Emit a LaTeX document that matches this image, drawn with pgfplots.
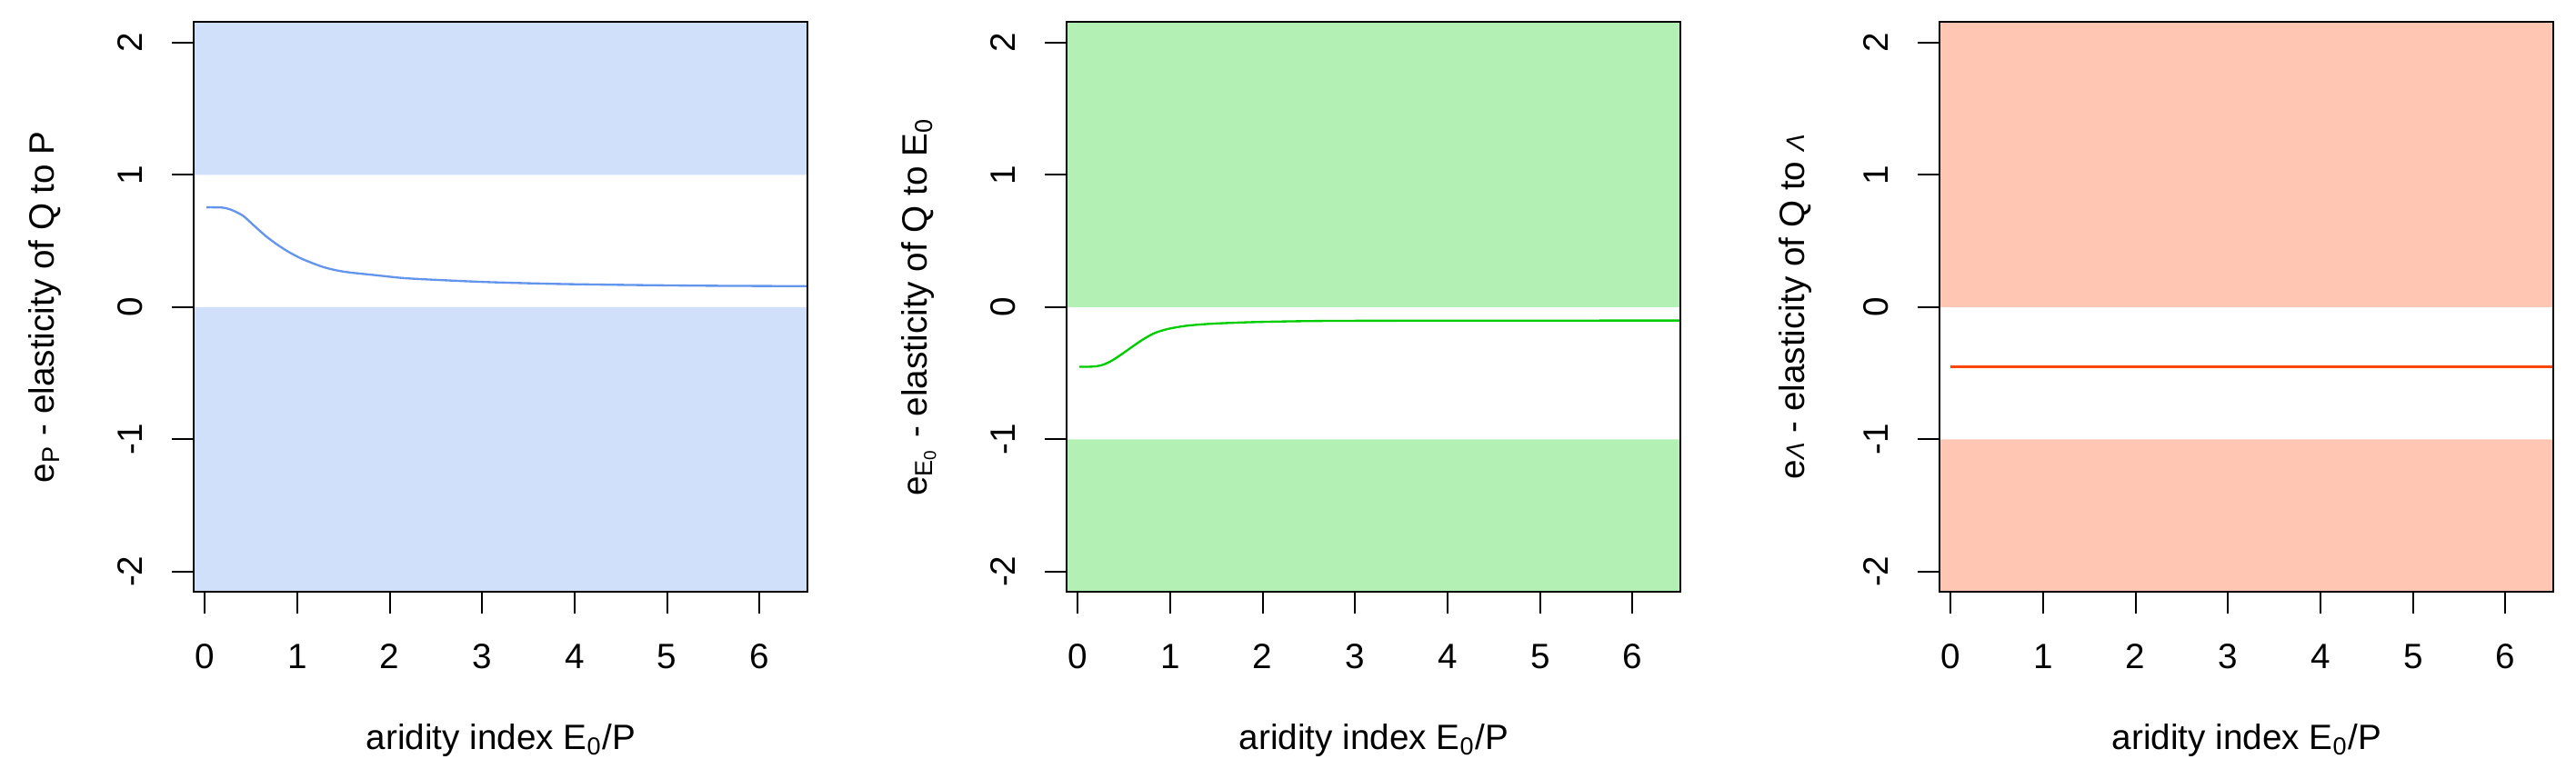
\documentclass[border=0pt]{standalone}
\usepackage{fontspec}
\setmainfont{Liberation Sans}
\usepackage{pgfplots}
\pgfplotsset{compat=1.18}
\definecolor{bfill}{RGB}{208,223,250}
\definecolor{gfill}{RGB}{179,240,179}
\definecolor{ofill}{RGB}{255,199,179}
\definecolor{bline}{RGB}{100,149,237}
\definecolor{gline}{RGB}{0,205,0}
\definecolor{oline}{RGB}{255,69,0}
\newcommand{\lbl}{\fontsize{11.6}{13}\selectfont}
\pgfplotsset{
  panel/.style={
    scale only axis, width=202.5pt, height=188.1pt,
    anchor=south west,
    xmin=-0.117, xmax=6.52, ymin=-2.155, ymax=2.155,
    xtick={0,1,2,3,4,5,6}, ytick={-2,-1,0,1,2},
    xticklabels={0,1,2,3,4,5,6}, yticklabels={-2,-1,0,1,2},
    tick pos=left, tick align=outside,
    major tick length=7.2pt,
    every tick/.style={black, line width=0.6pt},
    axis line style={line width=0.6pt},
    axis on top,
    /pgf/number format/assume math mode=true,
    ticklabel style={font=\lbl},
    xticklabel style={anchor=base},
    yticklabel style={rotate=90, anchor=base},
    xticklabel shift=18.2pt,
    yticklabel shift=9.8pt,
    label style={font=\lbl},
    xlabel={aridity index E\textsubscript{0}/P},
    xlabel style={at={(axis description cs:0.5,-0.277)}, anchor=base},
    ylabel style={at={(axis description cs:-0.228,0.5)}, anchor=base},
  }
}
\begin{document}
\begin{tikzpicture}
\useasboundingbox (0,0) rectangle (849.9pt,256.8pt);
% Panel 1
\begin{axis}[panel, at={(63.99pt,61.41pt)},
  ylabel={e\textsubscript{P} - elasticity of Q to P}]
\addplot[draw=none, fill=bfill] coordinates {(-1,1) (8,1) (8,3) (-1,3) (-1,1)};
\addplot[draw=none, fill=bfill] coordinates {(-1,0) (8,0) (8,-3) (-1,-3) (-1,0)};
\addplot[bline, line width=0.7pt, smooth] coordinates {
(0.02,0.754) (0.10,0.754) (0.19,0.752) (0.276,0.738) (0.41,0.692) (0.54,0.611)
(0.67,0.531) (0.805,0.462) (0.937,0.405) (1.069,0.359) (1.289,0.301) (1.508,0.267)
(1.86,0.240) (2.17,0.218) (2.61,0.202) (3.09,0.188) (3.8,0.175) (4.59,0.167)
(5.46,0.161) (6.52,0.158)};
\end{axis}
% Panel 2
\begin{axis}[panel, at={(351.99pt,61.41pt)},
  ylabel={e\textsubscript{E\textsubscript{0}} - elasticity of Q to E\textsubscript{0}}]
\addplot[draw=none, fill=gfill] coordinates {(-1,0) (8,0) (8,3) (-1,3) (-1,0)};
\addplot[draw=none, fill=gfill] coordinates {(-1,-1) (8,-1) (8,-3) (-1,-3) (-1,-1)};
\addplot[gline, line width=0.7pt, smooth] coordinates {
(0.018,-0.452) (0.10,-0.452) (0.20,-0.448) (0.28,-0.435) (0.37,-0.405) (0.465,-0.362)
(0.56,-0.315) (0.644,-0.274) (0.73,-0.235) (0.822,-0.20) (0.91,-0.178) (1.0,-0.162)
(1.12,-0.147) (1.24,-0.137) (1.48,-0.125) (1.95,-0.113) (2.67,-0.105) (4.0,-0.103)
(6.52,-0.102)};
\end{axis}
% Panel 3
\begin{axis}[panel, at={(639.99pt,61.41pt)},
  ylabel style={at={(axis description cs:-0.221,0.5)}},
  ylabel={e{\fontsize{8.4}{9}\selectfont\itshape Λ} - elasticity of Q to {\fontsize{8.4}{9}\selectfont\itshape Λ}}]
\addplot[draw=none, fill=ofill] coordinates {(-1,0) (8,0) (8,3) (-1,3) (-1,0)};
\addplot[draw=none, fill=ofill] coordinates {(-1,-1) (8,-1) (8,-3) (-1,-3) (-1,-1)};
\addplot[oline, line width=0.7pt] coordinates {(0.0,-0.452) (6.52,-0.452)};
\end{axis}
\end{tikzpicture}
\end{document}
